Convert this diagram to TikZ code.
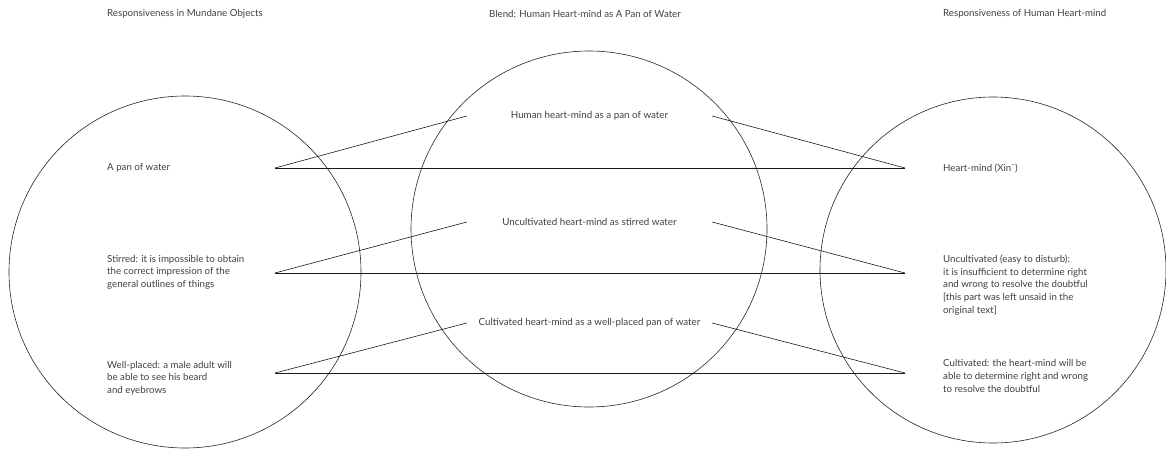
\documentclass[tikz,border=0pt]{standalone}
\usepackage{fontspec}
\setmainfont{Lato}
\usetikzlibrary{positioning}
\begin{document}
\begin{tikzpicture}[x=1pt, y=-1pt,
  ring/.style={draw=black!85, line width=0.6pt, circle, inner sep=0pt},
  txt/.style={anchor=west, align=left, inner sep=0pt, text=black!75, font=\fontsize{9.7}{12.6}\selectfont},
  blendtxt/.style={inner sep=0pt, minimum width=245pt, text=black!75, font=\fontsize{9.8}{12.6}\selectfont},
  link/.style={draw=black!90, line width=0.6pt}]
  \useasboundingbox (0,0) rectangle (1166,452);

  % Draw the three spaces
  \node[ring, minimum size=352pt] (mundane) at (185,272) {};
  \node[ring, minimum size=356pt] (blend) at (589,229) {};
  \node[ring, minimum size=346pt] (heart) at (993,270) {};

  % Titles above the spaces
  \node[txt] (mundane-title) at (107,14) {Responsiveness in Mundane Objects};
  \node[txt] (blend-title) at (489,14) {Blend: Human Heart-mind as A Pan of Water};
  \node[txt] (heart-title) at (943,14) {Responsiveness of Human Heart-mind};

  % Input space: mundane objects
  \node[txt] (mundane-1) at (107,168) {A pan of water};
  \node[txt] (mundane-2) at (107,272) {Stirred: it is impossible to obtain\\the correct impression of the\\general outlines of things};
  \node[txt] (mundane-3) at (107,378) {Well-placed: a male adult will\\be able to see his beard\\and eyebrows};

  % Input space: heart-mind
  \node[txt] (heart-1) at (943,168) {Heart-mind (Xin\textasciigrave)};
  \node[txt] (heart-2) at (943,285) {Uncultivated (easy to disturb):\\it is insufficient to determine right\\and wrong to resolve the doubtful\\{[this part was left unsaid in the}\\original text]};
  \node[txt] (heart-3) at (943,376) {Cultivated: the heart-mind will be\\able to determine right and wrong\\to resolve the doubtful};

  % Blended space
  \node[blendtxt] (blend-1) at (589.5,116) {Human heart-mind as a pan of water};
  \node[blendtxt] (blend-2) at (589.5,222) {Uncultivated heart-mind as stirred water};
  \node[blendtxt] (blend-3) at (589.5,323) {Cultivated heart-mind as a well-placed pan of water};

  % Connect the counterparts
  \foreach \r/\y in {1/168, 2/273, 3/373} {
    \coordinate (ma-\r) at (275,\y);
    \coordinate (ha-\r) at (905,\y);
    \draw[link] (ma-\r) -- (ha-\r);
    \draw[link] (ma-\r) -- (blend-\r.west);
    \draw[link] (blend-\r.east) -- (ha-\r);
  }
\end{tikzpicture}
\end{document}
